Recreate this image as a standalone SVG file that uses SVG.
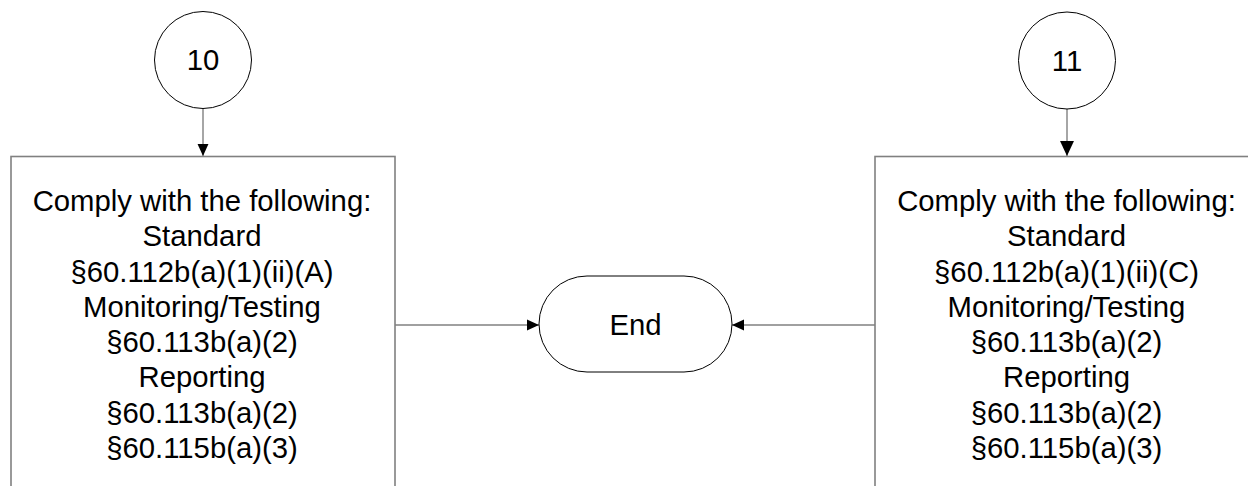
<svg xmlns="http://www.w3.org/2000/svg" width="1248" height="486" viewBox="0 0 1248 486">
<style>
text{font-family:"Liberation Sans",Arial,sans-serif;font-size:29.3px;fill:#000;text-anchor:middle}
.box{fill:#fff;stroke:#808080;stroke-width:1.6}
.circ{fill:#fff;stroke:#000;stroke-width:1}
.term{fill:#fff;stroke:#000;stroke-width:1}
.conn{fill:none;stroke:#808080;stroke-width:1.4}
</style>
<defs>
<marker id="ah" markerUnits="userSpaceOnUse" markerWidth="12" markerHeight="12" viewBox="0 0 11 10" refX="11" refY="5" orient="auto"><path d="M0,0 L11,5 L0,10 Z" fill="#000"/></marker>
<marker id="ahL" markerUnits="userSpaceOnUse" markerWidth="15" markerHeight="15" viewBox="0 0 14 13" refX="14" refY="6.5" orient="auto"><path d="M0,0 L14,6.5 L0,13 Z" fill="#000"/></marker>
</defs>
<rect width="1248" height="486" fill="#fff"/>
<g id="connectors">
<line class="conn" x1="203" y1="108.5" x2="203" y2="156" marker-end="url(#ah)"/>
<line class="conn" x1="1067" y1="109" x2="1067" y2="156" marker-end="url(#ahL)"/>
<line class="conn" x1="395" y1="325" x2="539" y2="325" marker-end="url(#ah)"/>
<line class="conn" x1="875" y1="325" x2="732" y2="325" marker-end="url(#ah)"/>
</g>
<g id="c10"><circle class="circ" cx="203" cy="60" r="48.5"/><text x="203" y="70">10</text></g>
<g id="c11"><circle class="circ" cx="1067" cy="60.5" r="48.5"/><text x="1067" y="70.5">11</text></g>
<g id="box10"><rect class="box" x="11" y="156.5" width="384" height="340"/>
<text><tspan x="202" y="210.5">Comply with the following:</tspan><tspan x="202" y="246">Standard</tspan><tspan x="202" y="281.5">§60.112b(a)(1)(ii)(A)</tspan><tspan x="202" y="316.5">Monitoring/Testing</tspan><tspan x="202" y="352">§60.113b(a)(2)</tspan><tspan x="202" y="387">Reporting</tspan><tspan x="202" y="422.5">§60.113b(a)(2)</tspan><tspan x="202" y="458">§60.115b(a)(3)</tspan></text></g>
<g id="box11"><rect class="box" x="875" y="156.5" width="384" height="340"/>
<text><tspan x="1066.5" y="210.5">Comply with the following:</tspan><tspan x="1066.5" y="246">Standard</tspan><tspan x="1066.5" y="281.5">§60.112b(a)(1)(ii)(C)</tspan><tspan x="1066.5" y="316.5">Monitoring/Testing</tspan><tspan x="1066.5" y="352">§60.113b(a)(2)</tspan><tspan x="1066.5" y="387">Reporting</tspan><tspan x="1066.5" y="422.5">§60.113b(a)(2)</tspan><tspan x="1066.5" y="458">§60.115b(a)(3)</tspan></text></g>
<g id="end"><rect class="term" x="539" y="276" width="193" height="96" rx="48" ry="48"/><text x="635.5" y="334.5">End</text></g>
</svg>
